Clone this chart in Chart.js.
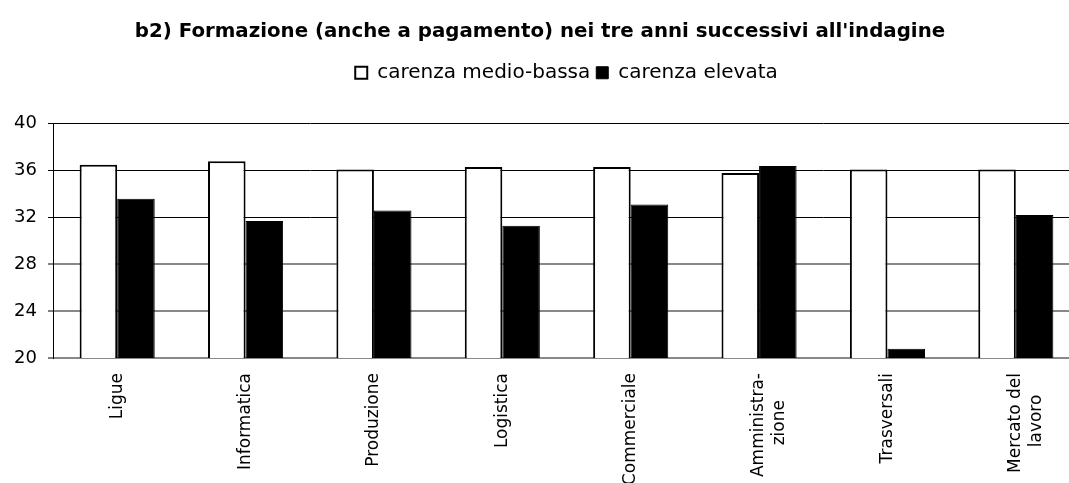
<!DOCTYPE html>
<html>
<head>
<meta charset="utf-8">
<script src="https://cdn.jsdelivr.net/npm/chart.js@4"></script>
<style>
  html, body { margin: 0; padding: 0; background: #fff; overflow: hidden; }
  #wrap { width: 1080px; height: 483px; }
</style>
</head>
<body>
<div id="wrap"><canvas id="chart"></canvas></div>
<script>
const titleText = "b2) Formazione (anche a pagamento) nei tre anni successivi all'indagine"
const categories = [
  'Ligue', 'Informatica', 'Produzione', 'Logistica', 'Commerciale',
  ['Amministra-', 'zione     '], 'Trasversali', ['Mercato del', 'lavoro    ']
]
const seriesNames = ['carenza medio-bassa', 'carenza elevata']
const medioBassa = [36.5, 36.8, 36.1, 36.3, 36.3, 35.8, 36.1, 36.1]
const elevata = [33.6, 31.7, 32.6, 31.3, 33.1, 36.4, 20.8, 32.2]
const yMin = 20
const yMax = 40
const yStep = 4

Chart.defaults.font.family = '"DejaVu Sans", Verdana, sans-serif'
Chart.defaults.color = '#000'

new Chart(document.getElementById('chart'), {
  type: 'bar',
  data: {
    labels: categories,
    datasets: [
      {
        label: seriesNames[0],
        data: medioBassa,
        backgroundColor: '#fff',
        borderColor: '#000',
        borderWidth: 2,
        borderSkipped: false
      },
      {
        label: seriesNames[1],
        data: elevata,
        backgroundColor: '#000',
        borderColor: '#000',
        borderWidth: 1,
        borderSkipped: false
      }
    ]
  },
  options: {
    responsive: true,
    maintainAspectRatio: false,
    animation: false,
    datasets: {
      bar: { categoryPercentage: 0.585, barPercentage: 1 }
    },
    layout: { padding: 0 },
    plugins: {
      title: {
        display: true,
        text: titleText,
        font: { size: 19.8, weight: 'bold' },
        padding: { top: 20, bottom: 13 }
      },
      // empty subtitle used as spacer between legend and plot
      subtitle: {
        display: true,
        text: '',
        weight: 500,
        font: { size: 1, lineHeight: 1 },
        padding: { top: 15, bottom: 15 }
      },
      legend: {
        position: 'top',
        fullSize: false,
        labels: {
          boxWidth: 12,
          boxHeight: 12,
          padding: 6,
          font: { size: 20 }
        }
      },
      tooltip: { enabled: false }
    },
    scales: {
      x: {
        grid: { display: false, drawTicks: false },
        border: { display: false },
        ticks: {
          autoSkip: false,
          maxRotation: 90,
          minRotation: 90,
          padding: 15,
          font: { size: 17 }
        },
        afterFit: scale => { scale.height = 125 }
      },
      y: {
        min: yMin,
        max: yMax,
        ticks: {
          stepSize: yStep,
          padding: 11,
          font: { size: 18 }
        },
        grid: {
          color: ctx => ctx.tick && ctx.tick.value >= 32 ? '#000' : '#888',
          lineWidth: ctx => ctx.tick && ctx.tick.value >= 32 ? 1 : 2,
          tickColor: '#000',
          tickWidth: 1,
          tickLength: 5
        },
        border: { display: true, color: '#000', width: 1 },
        afterFit: scale => { scale.width = 53 }
      }
    }
  }
})
</script>
</body>
</html>
